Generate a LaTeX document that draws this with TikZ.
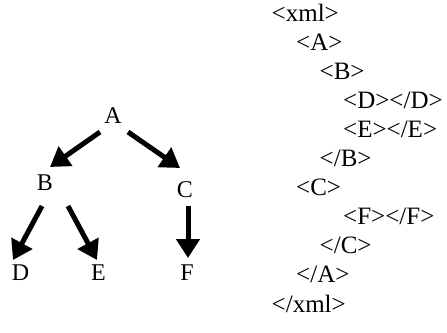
\documentclass[tikz,border=0pt]{standalone}
\usepackage{fontspec}
\setmainfont{Liberation Serif}
\usetikzlibrary{arrows.meta,calc}
\begin{document}
\begin{tikzpicture}[x=1pt,y=-1pt,
  lbl/.style={inner sep=0pt,anchor=base,font=\fontsize{24}{28}\selectfont},
  code/.style={inner sep=0pt,anchor=base west,font=\fontsize{25}{30}\selectfont},
  edge/.style={line width=5pt,-{Triangle[length=19pt,width=23pt]}}]
\useasboundingbox (0,0) rectangle (447,332);
% tree
\node[lbl] (A) at (113,123) {A};
\node[lbl] (B) at (45,190) {B};
\node[lbl] (C) at (185,197) {C};
\node[lbl] (D) at (20.5,280) {D};
\node[lbl] (E) at (98.5,280) {E};
\node[lbl] (F) at (187,280) {F};
\draw[edge] ($(A.base)+(-13,9)$) -- ($(B.base)+(5,-23)$);
\draw[edge] ($(A.base)+(15,9)$) -- ($(C.base)+(-5,-29)$);
\draw[edge] ($(B.base)+(-3,16)$) -- ($(D.base)+(-7.5,-20)$);
\draw[edge] ($(B.base)+(23,16)$) -- ($(E.base)+(-1.5,-20)$);
\draw[edge] ($(C.base)+(3,9)$) -- ($(F.base)+(1,-22)$);
% xml text
\node[code] (l1) at (271.5,21) {<xml>};
\node[code] (l2) at (296,50.1) {<A>};
\node[code] (l3) at (319.5,79.2) {<B>};
\node[code] (l4) at (343,108.3) {<D></D>};
\node[code] (l5) at (343,137.4) {<E></E>};
\node[code] (l6) at (319.5,166.5) {</B>};
\node[code] (l7) at (296,195.6) {<C>};
\node[code] (l8) at (343,224.7) {<F></F>};
\node[code] (l9) at (319.5,253.8) {</C>};
\node[code] (l10) at (296,282.9) {</A>};
\node[code] (l11) at (271.5,312) {</xml>};
\end{tikzpicture}
\end{document}
